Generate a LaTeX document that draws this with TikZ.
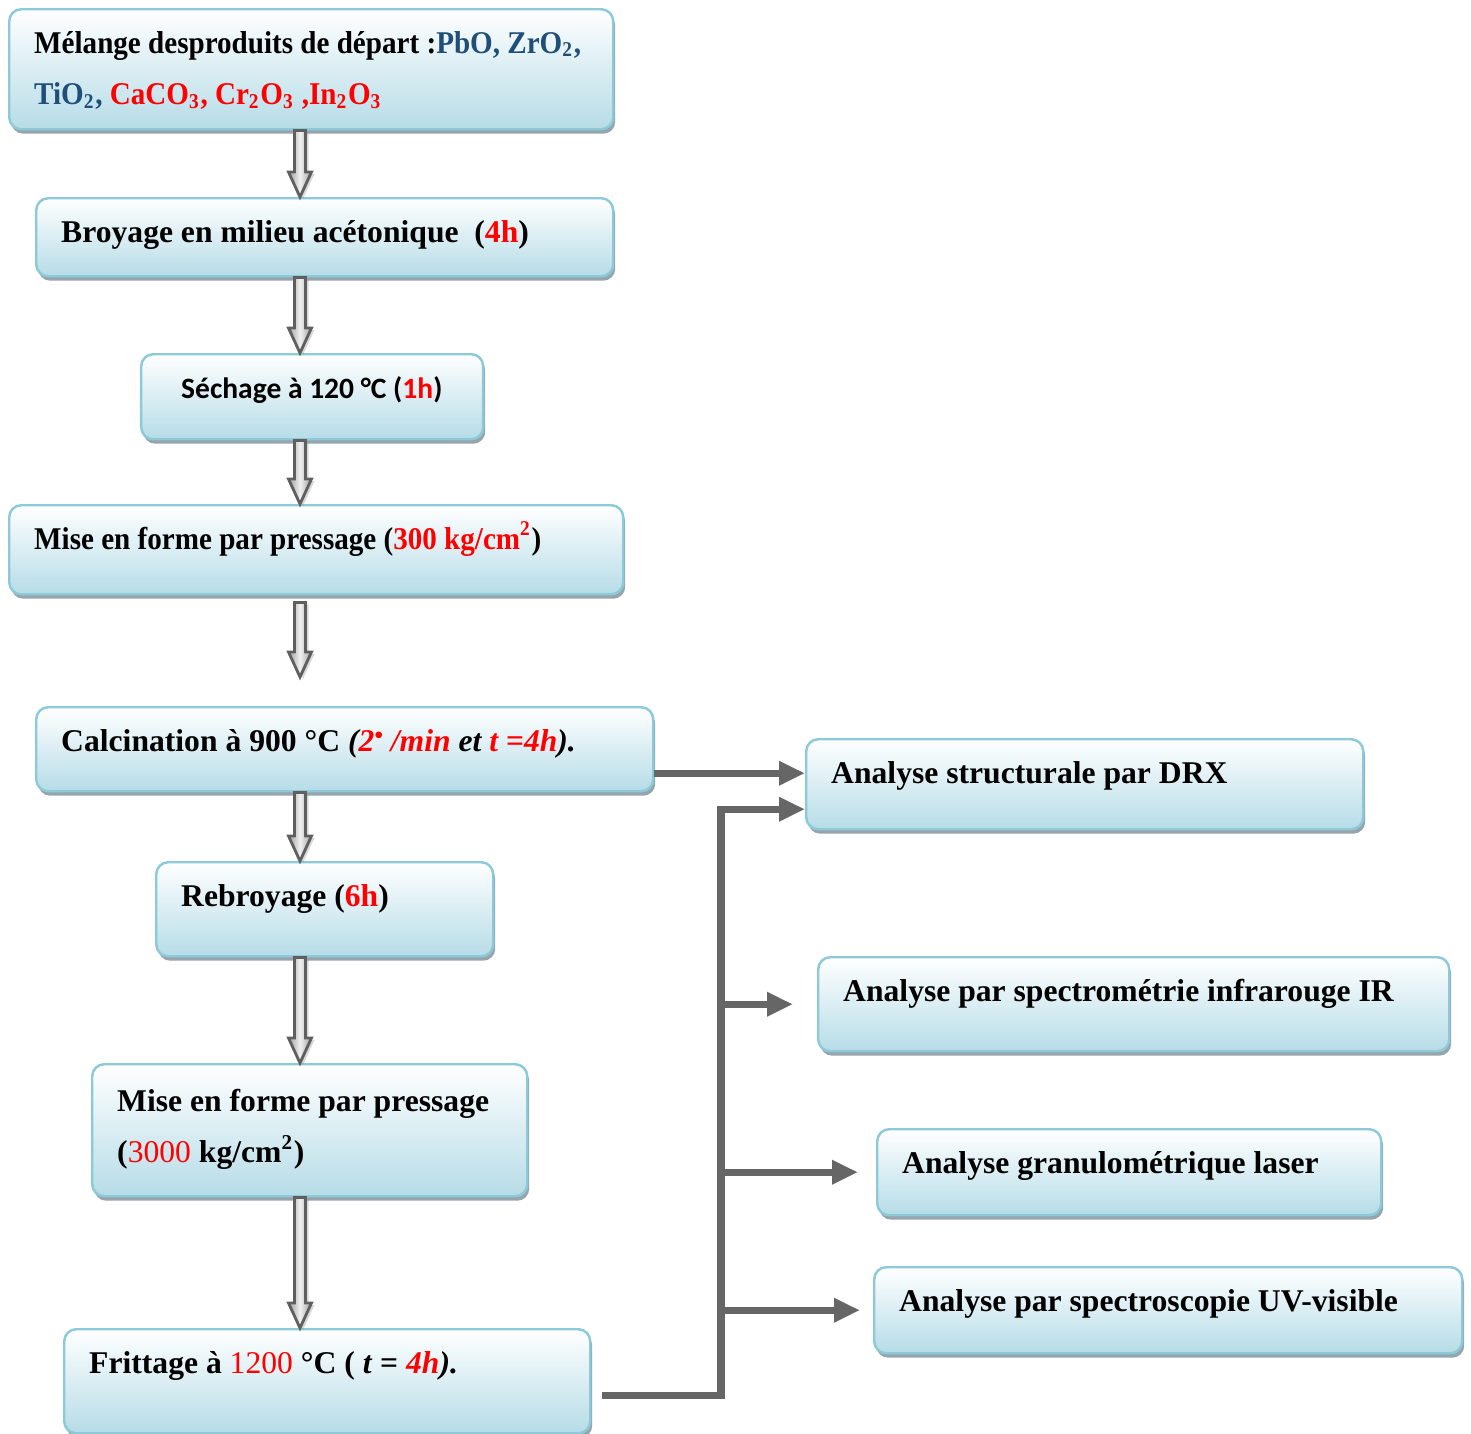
\documentclass[tikz,border=0pt]{standalone}
\usepackage{fontspec}
\setmainfont{Liberation Serif}
\newfontfamily\narrowserif[FakeStretch=0.92]{Liberation Serif}
\newfontfamily\calibri{Carlito}
\usetikzlibrary{arrows.meta,calc,shadows}
\definecolor{boxblue}{RGB}{182,220,231}
\definecolor{boxline}{RGB}{140,202,218}
\definecolor{boxshade}{RGB}{150,164,172}
\definecolor{chemblue}{RGB}{31,78,121}
\definecolor{chemred}{RGB}{255,0,0}
\definecolor{linkgray}{RGB}{102,102,102}
\definecolor{flowgray}{RGB}{95,95,95}

\begin{document}
\begin{tikzpicture}[
    stage/.style={draw=boxline, line width=0.7pt, rounded corners=0.12cm,
      top color=white, bottom color=boxblue,
      drop shadow={shadow xshift=0.02cm, shadow yshift=-0.045cm, opacity=1, fill=boxshade},
      anchor=north west, align=flush left, inner xsep=0.25cm, inner ysep=0pt,
      text height=0.44cm, font=\fontsize{9}{14.6}\selectfont\bfseries},
    flow/.style={draw=flowgray, line width=0.8pt, left color=gray!75, right color=gray!75, middle color=gray!12,
      drop shadow={shadow xshift=0.03cm, shadow yshift=-0.02cm, opacity=0.3, fill=gray},
      to path={let \p1=(\tikztostart), \p2=(\tikztotarget) in
        (\x1-0.055cm,\y1) -- (\x1+0.055cm,\y1) -- (\x1+0.055cm,\y2+0.25cm) -- (\x1+0.115cm,\y2+0.25cm)
        -- (\x1,\y2) -- (\x1-0.115cm,\y2+0.25cm) -- (\x1-0.055cm,\y2+0.25cm) -- cycle}},
    probe/.style={draw=linkgray, line width=2pt, -{Triangle[length=0.26cm, width=0.23cm]}}
  ]
    \useasboundingbox (0,0) rectangle (14.71,-14.34);

    % Elaboration steps (left column)
    \node[stage, text width=5.54cm, text depth=0.76cm] (melange) at (0.08,-0.08)
      {\narrowserif Mélange desproduits de départ :\textcolor{chemblue}{PbO, ZrO\textsubscript{2},}\\
       \textcolor{chemblue}{TiO\textsubscript{2},} \textcolor{chemred}{CaCO\textsubscript{3}, Cr\textsubscript{2}O\textsubscript{3} ,In\textsubscript{2}O\textsubscript{3}}};
    \node[stage, text width=5.27cm, text depth=0.34cm] (broyage) at (0.35,-1.97)
      {Broyage en milieu acétonique\ \ (\textcolor{chemred}{4h})};
    \node[stage, inner xsep=0.4cm, text width=2.62cm, text depth=0.41cm] (sechage) at (1.40,-3.53)
      {\mbox{\calibri\fontsize{8.4}{12}\selectfont Séchage à 120 °C (\textcolor{chemred}{1h})}};
    \node[stage, text width=5.64cm, text depth=0.45cm] (pressA) at (0.08,-5.04)
      {\narrowserif Mise en forme par pressage (\textcolor{chemred}{300 kg/cm\textsuperscript{2}})};
    \node[stage, text width=5.67cm, text depth=0.40cm] (calc) at (0.35,-7.06)
      {Calcination à 900 °C \textit{(\textcolor{chemred}{2{\fontsize{7}{7}\selectfont\raisebox{0.3em}{•}} /min} et \textcolor{chemred}{t =4h}).}};
    \node[stage, text width=2.87cm, text depth=0.50cm] (rebroyage) at (1.55,-8.61)
      {Rebroyage (\textcolor{chemred}{6h})};
    \node[stage, text width=3.85cm, text height=0.47cm, text depth=0.85cm] (pressB) at (0.91,-10.63)
      {Mise en forme par pressage\\ (\textcolor{chemred}{\mdseries 3000} kg/cm\textsuperscript{2})};
    \node[stage, text width=4.76cm, text depth=0.60cm] (frittage) at (0.63,-13.28)
      {Frittage à \textcolor{chemred}{\mdseries 1200} °C ( \textit{t} = \textcolor{chemred}{\textit{4h}}\textit{).}};

    % Characterisations (right column)
    \node[stage, text width=5.07cm, text depth=0.46cm] (drx) at (8.05,-7.38)
      {Analyse structurale par DRX};
    \node[stage, text width=5.81cm, text depth=0.50cm] (ir) at (8.17,-9.56)
      {Analyse par spectrométrie infrarouge IR};
    \node[stage, text width=4.54cm, text depth=0.42cm] (laser) at (8.76,-11.28)
      {Analyse granulométrique laser};
    \node[stage, text width=5.38cm, text depth=0.42cm] (uv) at (8.73,-12.66)
      {Analyse par spectroscopie UV-visible};

    % Block arrows between steps
    \coordinate (axis) at (3.0,0);
    \draw[flow] (melange.south -| axis) to (broyage.north -| axis);
    \draw[flow] (broyage.south -| axis) to (sechage.north -| axis);
    \draw[flow] (sechage.south -| axis) to (pressA.north -| axis);
    \draw[flow] ([yshift=-0.07cm]pressA.south -| axis) to ([yshift=0.29cm]calc.north -| axis);
    \draw[flow] (calc.south -| axis) to (rebroyage.north -| axis);
    \draw[flow] (rebroyage.south -| axis) to (pressB.north -| axis);
    \draw[flow] (pressB.south -| axis) to (frittage.north -| axis);

    % Links to the analyses
    \coordinate (drxtop) at ([yshift=0.11cm]drx.west);
    \coordinate (drxlow) at ([yshift=-0.25cm]drx.west);
    \coordinate (bus) at ([xshift=-0.84cm]drx.west);
    \draw[probe] (calc.east |- drxtop) -- (drxtop);
    \draw[probe] ([xshift=0.11cm,yshift=-0.14cm]frittage.east) -| (bus |- drxlow) -- (drxlow);
    \draw[probe, shorten >=0.24cm] (ir.west -| bus) -- (ir.west);
    \draw[probe, shorten >=0.18cm] (laser.west -| bus) -- (laser.west);
    \draw[probe, shorten >=0.13cm] (uv.west -| bus) -- (uv.west);
\end{tikzpicture}
\end{document}
